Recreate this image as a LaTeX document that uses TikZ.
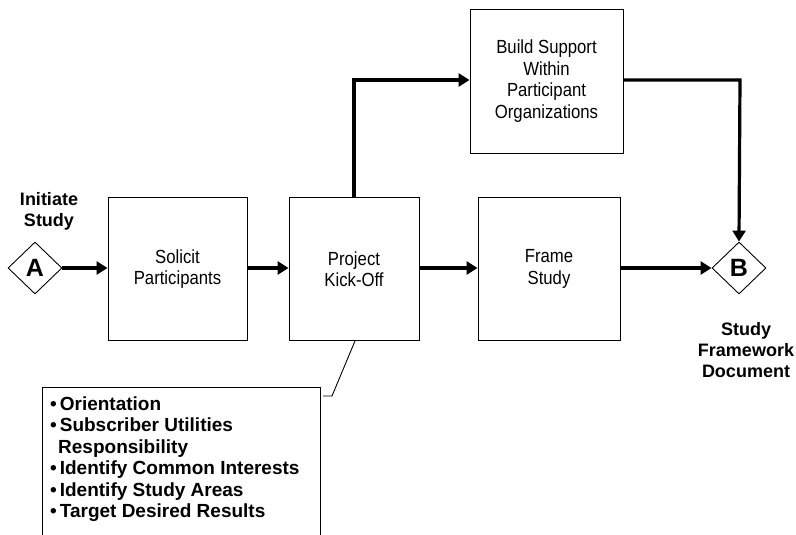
\documentclass[tikz,border=0pt]{standalone}
\usepackage{fontspec}
\setmainfont{Liberation Sans}
\newfontfamily\narrowfont[FakeStretch=0.88]{Liberation Sans}
\usetikzlibrary{shapes.geometric,arrows.meta}
\newcommand{\itembullet}{\textbullet\hspace{3pt}}
\begin{document}
\begin{tikzpicture}[x=1pt,y=-1pt,
  stepbox/.style={draw,line width=0.9pt,align=center,font=\narrowfont\fontsize{19}{21.5}\selectfont,inner sep=0pt},
  pin/.style={draw,diamond,line width=0.9pt,minimum width=54pt,minimum height=52pt,inner sep=0pt,font=\bfseries\fontsize{25}{26}\selectfont},
  flow/.style={line width=3.2pt,-{Triangle[length=11pt,width=13pt]}},
  lbl/.style={align=center,font=\bfseries\fontsize{18}{21}\selectfont}]
\useasboundingbox (0,0) rectangle (796,535);
% process boxes
\node[stepbox, minimum width=139pt, minimum height=143pt] (sol) at (177.5,269) {Solicit\\Participants};
\node[stepbox, minimum width=130pt, minimum height=143pt] (kick) at (354,269) {Project\\Kick-Off};
\node[stepbox, minimum width=142pt, minimum height=143pt] (frame) at (549,269) {Frame\\Study};
\node[stepbox, minimum width=153pt, minimum height=144pt] (build) at (546.5,81) {Build Support\\Within\\Participant\\Organizations};
% start and end connectors
\node[pin] (A) at (35,268) {A};
\node[pin] (B) at (739,268) {B};
\node[lbl] (start) at (49,211) {Initiate\\Study};
\node[lbl] (doc) at (746,350) {Study\\Framework\\Document};
% flow arrows
\coordinate (up) at (354,80);
\coordinate (turn) at (740,80);
\draw[flow] (A.east) -- (sol.west |- A.east);
\draw[flow] (sol.east |- A.east) -- (kick.west |- A.east);
\draw[flow] (kick.east |- A.east) -- (frame.west |- A.east);
\draw[flow] (frame.east |- B.west) -- (B.west);
\draw[flow] (kick.north) -- (up) -- (build.west |- up);
\draw[flow] (build.east |- turn) -- (turn) -- (B.north);
% callout with activities
\draw[line width=0.9pt] (42,540) -- (42,387) -- (320,387) -- (320,540);
\node[anchor=north west,align=left,inner sep=0pt,font=\bfseries\fontsize{19}{21.4}\selectfont] (notes) at (50,396.5)
  {\itembullet Orientation\\
   \itembullet Subscriber Utilities\\
   \hspace*{8pt}Responsibility\\
   \itembullet Identify Common Interests\\
   \itembullet Identify Study Areas\\
   \itembullet Target Desired Results};
\coordinate (tail) at (332,396);
\draw[line width=0.9pt] (323,396) -- (tail) -- (kick.south west -| 355,0);
\end{tikzpicture}
\end{document}
